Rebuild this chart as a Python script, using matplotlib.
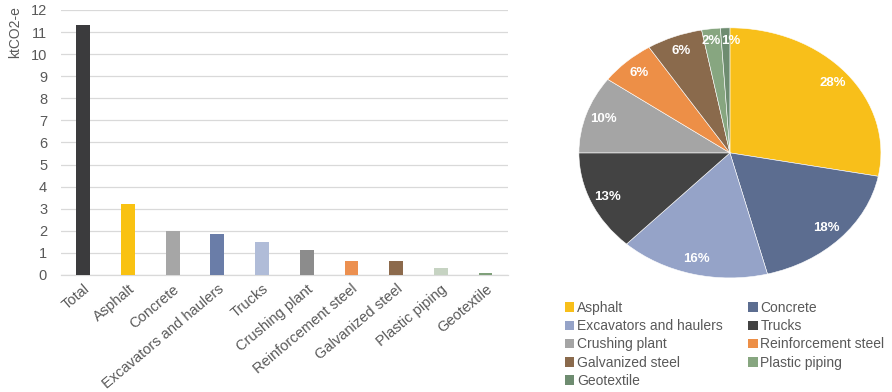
import matplotlib
matplotlib.use("Agg")
import matplotlib.pyplot as plt
from matplotlib.patches import Patch

plt.rcParams["font.family"] = ["Liberation Sans", "DejaVu Sans"]

# Emissions by source (ktCO2-e)
bar_labels = ["Total", "Asphalt", "Concrete", "Excavators and haulers", "Trucks",
              "Crushing plant", "Reinforcement steel", "Galvanized steel",
              "Plastic piping", "Geotextile"]
bar_values = [11.3, 3.2, 2.0, 1.87, 1.5, 1.15, 0.65, 0.65, 0.3, 0.1]
bar_colors = ["#3b3b3d", "#f9c212", "#a6a6a6", "#6a7da8", "#b0bcd8",
              "#8c8c8c", "#ec9050", "#8c6a4c", "#c6d3c2", "#7fa07a"]

# Share of total (%)
pie_labels = ["Asphalt", "Concrete", "Excavators and haulers", "Trucks",
              "Crushing plant", "Reinforcement steel", "Galvanized steel",
              "Plastic piping", "Geotextile"]
pie_values = [28, 18, 16, 13, 10, 6, 6, 2, 1]
pie_colors = ["#f8bf1a", "#5c6d90", "#95a3c8", "#434343", "#a5a5a5",
              "#ed8f47", "#8a6a4c", "#87a680", "#6e8c70"]

text_gray = "#595959"

fig = plt.figure(figsize=(8.92, 3.92), dpi=100)

# Bar chart
ax = fig.add_axes([0.0684, 0.2985, 0.501, 0.676])
x = range(len(bar_values))
ax.bar(x, bar_values, width=0.31, color=bar_colors, zorder=3)
ax.set_xlim(-0.5, len(bar_values) - 0.5)
ax.set_ylim(0, 12)
ax.set_yticks(range(0, 13))
ax.set_xticks(list(x))
ax.set_xticklabels(bar_labels, rotation=40, ha="right", rotation_mode="anchor")
ax.tick_params(axis="both", length=0, labelcolor=text_gray)
ax.tick_params(axis="y", pad=10, labelsize=10.5)
ax.tick_params(axis="x", pad=5, labelsize=10.5)
ax.grid(axis="y", color="#d9d9d9", linewidth=0.9, zorder=0)
for s in ["top", "right", "left"]:
    ax.spines[s].set_visible(False)
ax.spines["bottom"].set_color("#d9d9d9")
ax.spines["bottom"].set_linewidth(0.9)
ax.set_ylabel("ktCO2-e", color=text_gray, fontsize=10)
ax.yaxis.set_label_coords(-0.088, 0.915)

# Pie chart (drawn stretched into an ellipse)
pax = fig.add_axes([0.649, 0.291, 0.3386, 0.638])
wedges, texts, autotexts = pax.pie(
    pie_values, colors=pie_colors, startangle=90, counterclock=False,
    autopct=lambda p: f"{round(p)}%", pctdistance=0.88,
    wedgeprops=dict(edgecolor="white", linewidth=0.4),
    textprops=dict(color="white", fontsize=9.5, fontweight="bold"))
pax.set_aspect("auto")
pax.set_xlim(-1, 1)
pax.set_ylim(-1, 1)
# the two thinnest slices sit side by side at the top
x2, y2 = autotexts[-2].get_position()
autotexts[-2].set_ha("right")
autotexts[-2].set_position((-0.06, y2 + 0.02))
autotexts[-1].set_ha("left")
autotexts[-1].set_position((-0.055, y2 + 0.02))

handles = [Patch(facecolor=c, edgecolor="none") for c in pie_colors]
# order legend row-wise across two columns
order_rows = [(0, 1), (2, 3), (4, 5), (6, 7), (8, None)]
col1 = [r[0] for r in order_rows]
col2 = [r[1] for r in order_rows if r[1] is not None]
idx = col1 + col2
leg = fig.legend([handles[i] for i in idx], [pie_labels[i] for i in idx],
                 ncol=2, loc="upper left", bbox_to_anchor=(0.633, 0.232),
                 frameon=False, fontsize=10, handlelength=0.7, handleheight=0.7,
                 handletextpad=0.2, columnspacing=1.8, labelspacing=0.3,
                 borderaxespad=0, borderpad=0)
for t in leg.get_texts():
    t.set_color(text_gray)

fig.savefig("out.png", dpi=100)
